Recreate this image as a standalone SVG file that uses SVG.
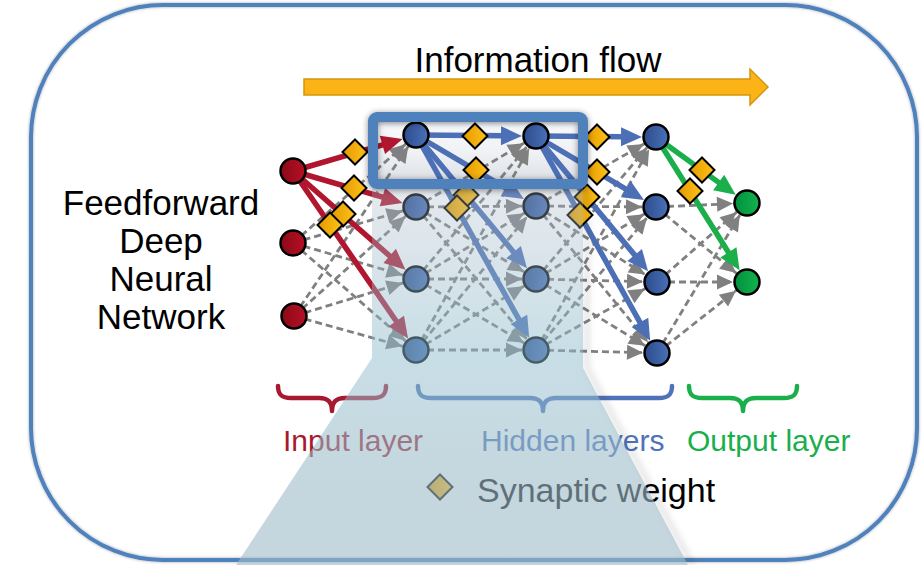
<svg xmlns="http://www.w3.org/2000/svg" width="922" height="565" viewBox="0 0 922 565">
<defs>
<style>
text{font-family:"Liberation Sans",Arial,Helvetica,sans-serif}
.d{stroke:#808080;stroke-width:2.8;stroke-dasharray:7 4;fill:none;marker-end:url(#mg)}
.r{stroke:#b0172f;stroke-width:5.5;marker-end:url(#mr)}
.b{stroke:#4c6fb5;stroke-width:5.5;marker-end:url(#mb)}
.g{stroke:#1aaf4b;stroke-width:5.5;marker-end:url(#mgr)}
.nr{fill:url(#gr);stroke:#000;stroke-width:2.5}
.nb{fill:url(#gb);stroke:#000;stroke-width:2.5}
.ng{fill:url(#gg);stroke:#000;stroke-width:2.5}
.w{fill:url(#gw);stroke:#000;stroke-width:2}
.br{fill:none;stroke-width:4.5;stroke-linecap:round;stroke-linejoin:round}
</style>
<marker id="mg" markerUnits="userSpaceOnUse" viewBox="-40 -20 40 40" refX="0" refY="0" markerWidth="40" markerHeight="40" orient="auto" overflow="visible"><path d="M-30,-7.5 L-14,0 L-30,7.5 z" fill="#808080"/></marker>
<marker id="mr" markerUnits="userSpaceOnUse" viewBox="-20 -20 40 40" refX="0" refY="0" markerWidth="40" markerHeight="40" orient="auto" overflow="visible"><path d="M-2,-9.5 L19,0 L-2,9.5 z" fill="#b0172f"/></marker>
<marker id="mb" markerUnits="userSpaceOnUse" viewBox="-20 -20 40 40" refX="0" refY="0" markerWidth="40" markerHeight="40" orient="auto" overflow="visible"><path d="M-2,-9.5 L19,0 L-2,9.5 z" fill="#4c6fb5"/></marker>
<marker id="mgr" markerUnits="userSpaceOnUse" viewBox="-20 -20 40 40" refX="0" refY="0" markerWidth="40" markerHeight="40" orient="auto" overflow="visible"><path d="M-2,-9.5 L19,0 L-2,9.5 z" fill="#1aaf4b"/></marker>
<linearGradient id="gr" x1="0" y1="0" x2="1" y2="0"><stop offset="0" stop-color="#8a0a18"/><stop offset="1" stop-color="#b80f25"/></linearGradient>
<linearGradient id="gb" x1="0" y1="0" x2="1" y2="0"><stop offset="0" stop-color="#2c4d8c"/><stop offset="1" stop-color="#4a70b8"/></linearGradient>
<linearGradient id="gg" x1="0" y1="0" x2="1" y2="0"><stop offset="0" stop-color="#00913d"/><stop offset="1" stop-color="#14b24f"/></linearGradient>
<linearGradient id="gw" x1="0" y1="0" x2="1" y2="0"><stop offset="0" stop-color="#e39a00"/><stop offset="1" stop-color="#ffc21a"/></linearGradient>
<linearGradient id="gbox" x1="0" y1="0" x2="0" y2="1"><stop offset="0" stop-color="#e6e8ec"/><stop offset="0.15" stop-color="#f7f8fa"/><stop offset="0.55" stop-color="#eff1f4"/><stop offset="1" stop-color="#dadee5"/></linearGradient>
<linearGradient id="gov" gradientUnits="userSpaceOnUse" x1="0" y1="184" x2="0" y2="565"><stop offset="0" stop-color="rgb(170,185,200)" stop-opacity="0.3"/><stop offset="0.436" stop-color="rgb(143,188,204)" stop-opacity="0.49"/><stop offset="0.8" stop-color="rgb(158,187,200)" stop-opacity="0.6"/><stop offset="1" stop-color="rgb(158,187,200)" stop-opacity="0.6"/></linearGradient>
<filter id="sh" x="-10%" y="-40%" width="120%" height="180%"><feDropShadow dx="0" dy="1" stdDeviation="3" flood-color="#000" flood-opacity="0.45"/></filter>
<filter id="sh2" x="-5%" y="-5%" width="110%" height="110%"><feDropShadow dx="0" dy="0" stdDeviation="1.5" flood-color="#000" flood-opacity="0.35"/></filter>
<filter id="blur" x="-20%" y="-5%" width="140%" height="110%"><feGaussianBlur stdDeviation="3"/></filter>
<polygon id="dia" points="0,-12.5 12.5,0 0,12.5 -12.5,0"/>
</defs>
<rect width="922" height="565" fill="#fff"/>
<rect id="frame" x="31" y="5" width="886" height="555" rx="132" fill="none" stroke="#4f81bd" stroke-width="4" filter="url(#sh2)"/>
<rect id="box-bg" x="373" y="117" width="210" height="67" fill="url(#gbox)"/>

<g id="flow">
<polygon points="304,79 750,79 750,69 768,87 750,105 750,95 304,95" fill="#fbb316" stroke="#d4960c" stroke-width="1.5"/>
<text x="538" y="72" font-size="35" text-anchor="middle" fill="#000">Information flow</text>
</g>
<g id="title" font-size="35" text-anchor="middle" fill="#000">
<text x="161" y="215">Feedforward</text>
<text x="161" y="253">Deep</text>
<text x="161" y="291">Neural</text>
<text x="161" y="329">Network</text>
</g>
<g id="braces">
<path class="br" stroke="#a6192e" d="M278,386 C278,395 282,398 291,398 L319,398 C327,398 332,401 332,411 C332,401 337,398 345,398 L373,398 C382,398 386,395 386,386"/>
<path class="br" stroke="#4f72b8" d="M418,386 C418,395 422,398 431,398 L530,398 C538,398 543,401 543,411 C543,401 548,398 556,398 L659,398 C668,398 672,395 672,386"/>
<path class="br" stroke="#1aaf4b" d="M689,386 C689,395 693,398 702,398 L730,398 C738,398 743,401 743,411 C743,401 748,398 756,398 L784,398 C793,398 797,395 797,386"/>
</g>
<g id="labels" font-size="30">
<text x="283" y="451" fill="#a6192e">Input layer</text>
<text x="481" y="451" fill="#4f72b8">Hidden layers</text>
<text x="687" y="451" fill="#1aaf4b">Output layer</text>
</g>
<g id="legend">
<use href="#dia" x="440" y="487" class="w"/>
<text x="477" y="502" font-size="34" fill="#000">Synaptic weight</text>
</g>

<g id="connectors">
<line class="d" x1="293" y1="243" x2="416" y2="135"/>
<line class="d" x1="293" y1="243" x2="416" y2="207"/>
<line class="d" x1="293" y1="243" x2="416" y2="279"/>
<line class="d" x1="293" y1="243" x2="416" y2="350"/>
<line class="d" x1="294" y1="316" x2="416" y2="135"/>
<line class="d" x1="294" y1="316" x2="416" y2="207"/>
<line class="d" x1="294" y1="316" x2="416" y2="279"/>
<line class="d" x1="294" y1="316" x2="416" y2="350"/>
<line class="d" x1="416" y1="207" x2="536" y2="136"/>
<line class="d" x1="416" y1="207" x2="536" y2="206"/>
<line class="d" x1="416" y1="207" x2="536" y2="279"/>
<line class="d" x1="416" y1="207" x2="536" y2="350"/>
<line class="d" x1="416" y1="279" x2="536" y2="136"/>
<line class="d" x1="416" y1="279" x2="536" y2="206"/>
<line class="d" x1="416" y1="279" x2="536" y2="279"/>
<line class="d" x1="416" y1="279" x2="536" y2="350"/>
<line class="d" x1="416" y1="350" x2="536" y2="136"/>
<line class="d" x1="416" y1="350" x2="536" y2="206"/>
<line class="d" x1="416" y1="350" x2="536" y2="279"/>
<line class="d" x1="416" y1="350" x2="536" y2="350"/>
<line class="d" x1="536" y1="206" x2="656" y2="137"/>
<line class="d" x1="536" y1="206" x2="656" y2="207"/>
<line class="d" x1="536" y1="206" x2="657" y2="282"/>
<line class="d" x1="536" y1="206" x2="657" y2="353"/>
<line class="d" x1="536" y1="279" x2="656" y2="137"/>
<line class="d" x1="536" y1="279" x2="656" y2="207"/>
<line class="d" x1="536" y1="279" x2="657" y2="282"/>
<line class="d" x1="536" y1="279" x2="657" y2="353"/>
<line class="d" x1="536" y1="350" x2="656" y2="137"/>
<line class="d" x1="536" y1="350" x2="656" y2="207"/>
<line class="d" x1="536" y1="350" x2="657" y2="282"/>
<line class="d" x1="536" y1="350" x2="657" y2="353"/>
<line class="d" x1="656" y1="207" x2="747" y2="203"/>
<line class="d" x1="656" y1="207" x2="747" y2="282"/>
<line class="d" x1="657" y1="282" x2="747" y2="203"/>
<line class="d" x1="657" y1="282" x2="747" y2="282"/>
<line class="d" x1="657" y1="353" x2="747" y2="203"/>
<line class="d" x1="657" y1="353" x2="747" y2="282"/>

<line class="r" x1="293" y1="171" x2="384.33" y2="144.27"/>
<line class="r" x1="293" y1="171" x2="384.33" y2="197.73"/>
<line class="r" x1="293" y1="171" x2="391.2" y2="257.23"/>
<line class="r" x1="293" y1="171" x2="397.31" y2="322.8"/>
<line class="b" x1="416" y1="135" x2="503" y2="135.73"/>
<line class="b" x1="416" y1="135" x2="507.6" y2="189.2"/>
<line class="b" x1="416" y1="135" x2="514.87" y2="253.65"/>
<line class="b" x1="416" y1="135" x2="519.92" y2="321.18"/>
<line class="b" x1="536" y1="136" x2="623" y2="136.73"/>
<line class="b" x1="536" y1="136" x2="627.6" y2="190.2"/>
<line class="b" x1="536" y1="136" x2="635.94" y2="256.59"/>
<line class="b" x1="536" y1="136" x2="640.93" y2="324.18"/>
<line class="g" x1="656" y1="137" x2="720.29" y2="183.63"/>
<line class="g" x1="656" y1="137" x2="729.46" y2="254.05"/>
</g>

<g id="weights" class="w">
<use href="#dia" x="355" y="152"/>
<use href="#dia" x="354" y="188"/>
<use href="#dia" x="343" y="214"/>
<use href="#dia" x="330" y="225"/>
<use href="#dia" x="475" y="136"/>
<use href="#dia" x="476" y="170"/>
<use href="#dia" x="466" y="195"/>
<use href="#dia" x="457" y="208"/>
<use href="#dia" x="597" y="137"/>
<use href="#dia" x="597" y="172"/>
<use href="#dia" x="587" y="197"/>
<use href="#dia" x="580" y="215"/>
<use href="#dia" x="702" y="170"/>
<use href="#dia" x="690" y="191"/>
</g>

<g id="in1"><circle class="nr" cx="293" cy="171" r="12.5"/></g>
<g id="in2"><circle class="nr" cx="293" cy="243" r="12.5"/></g>
<g id="in3"><circle class="nr" cx="294" cy="316" r="12.5"/></g>
<g id="h1n1"><circle class="nb" cx="416" cy="135" r="12.5"/></g>
<g id="h1n2"><circle class="nb" cx="416" cy="207" r="12.5"/></g>
<g id="h1n3"><circle class="nb" cx="416" cy="279" r="12.5"/></g>
<g id="h1n4"><circle class="nb" cx="416" cy="350" r="12.5"/></g>
<g id="h2n1"><circle class="nb" cx="536" cy="136" r="12.5"/></g>
<g id="h2n2"><circle class="nb" cx="536" cy="206" r="12.5"/></g>
<g id="h2n3"><circle class="nb" cx="536" cy="279" r="12.5"/></g>
<g id="h2n4"><circle class="nb" cx="536" cy="350" r="12.5"/></g>
<g id="h3n1"><circle class="nb" cx="656" cy="137" r="12.5"/></g>
<g id="h3n2"><circle class="nb" cx="656" cy="207" r="12.5"/></g>
<g id="h3n3"><circle class="nb" cx="657" cy="282" r="12.5"/></g>
<g id="h3n4"><circle class="nb" cx="657" cy="353" r="12.5"/></g>
<g id="out1"><circle class="ng" cx="747" cy="203" r="12.5"/></g>
<g id="out2"><circle class="ng" cx="747" cy="282" r="12.5"/></g>

<path id="spotlight-edge" d="M587,186 V368 L692,565" fill="none" stroke="#000" stroke-opacity="0.12" stroke-width="5" filter="url(#blur)"/>
<path id="spotlight" d="M372,184 H583 V368 L688,565 H236 L372,358 Z" fill="url(#gov)"/>
<rect id="highlight" x="373" y="117" width="210" height="67" rx="4" fill="none" stroke="#4f81bd" stroke-width="10" filter="url(#sh)"/>
</svg>
